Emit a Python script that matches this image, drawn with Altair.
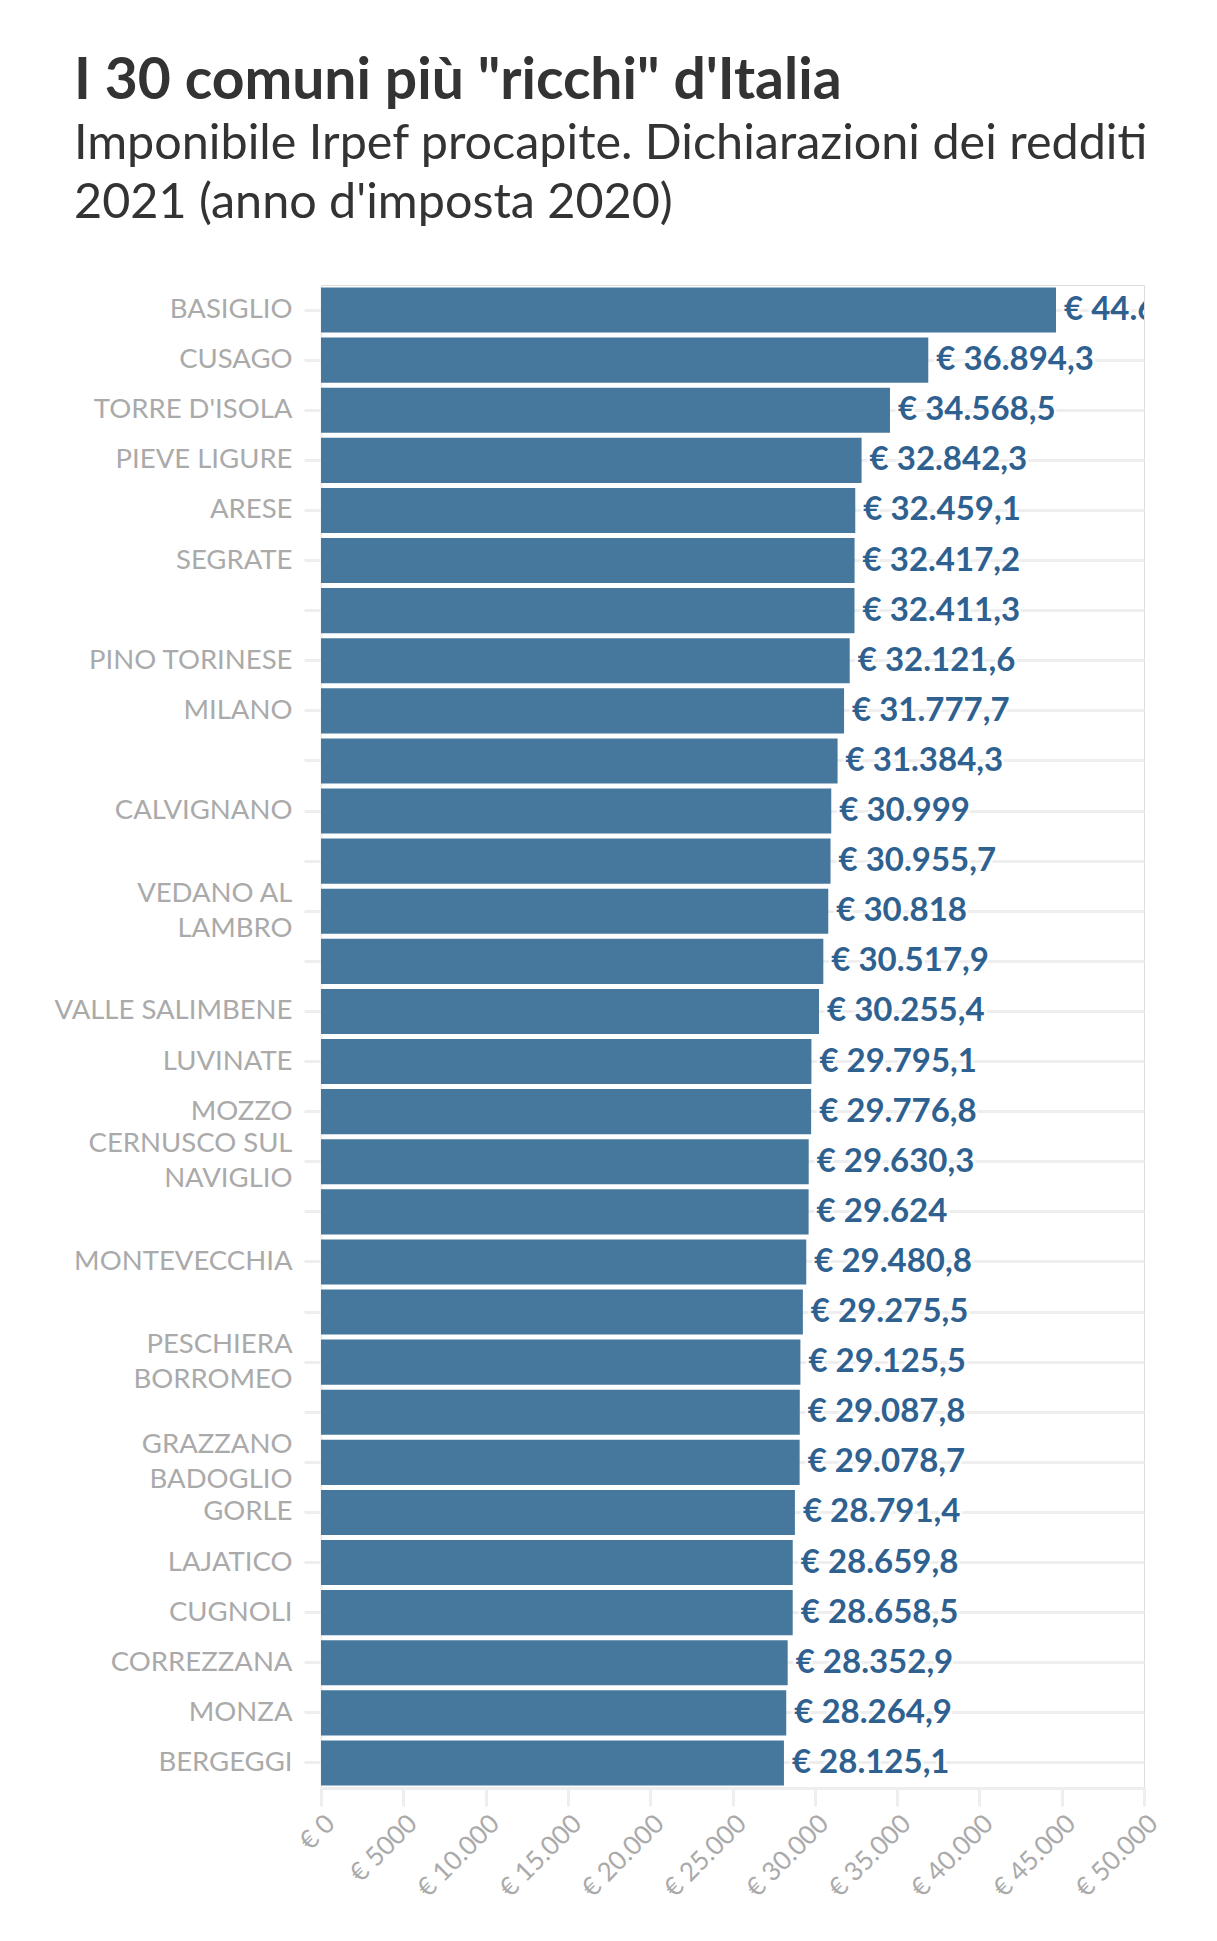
import json
import altair as alt
import pandas as pd

# ---- data ----
names = [
    "BASIGLIO", "CUSAGO", "TORRE D'ISOLA", "PIEVE LIGURE", "ARESE", "SEGRATE",
    "", "PINO TORINESE", "MILANO", "", "CALVIGNANO", "", "VEDANO AL\nLAMBRO",
    "", "VALLE SALIMBENE", "LUVINATE", "MOZZO", "CERNUSCO SUL\nNAVIGLIO", "",
    "MONTEVECCHIA", "", "PESCHIERA\nBORROMEO", "", "GRAZZANO\nBADOGLIO",
    "GORLE", "LAJATICO", "CUGNOLI", "CORREZZANA", "MONZA", "BERGEGGI",
]
values = [
    44654.0, 36894.3, 34568.5, 32842.3, 32459.1, 32417.2, 32411.3, 32121.6,
    31777.7, 31384.3, 30999.0, 30955.7, 30818.0, 30517.9, 30255.4, 29795.1,
    29776.8, 29630.3, 29624.0, 29480.8, 29275.5, 29125.5, 29087.8, 29078.7,
    28791.4, 28659.8, 28658.5, 28352.9, 28264.9, 28125.1,
]
x_ticks = [0, 5000, 10000, 15000, 20000, 25000, 30000, 35000, 40000, 45000, 50000]

title_text = 'I 30 comuni più "ricchi" d\'Italia'
subtitle_lines = [
    "Imponibile Irpef procapite. Dichiarazioni dei redditi",
    "2021 (anno d'imposta 2020)",
]


def fmt_eur(v):
    if abs(v - round(v)) < 1e-9:
        s = f"{int(round(v)):,}".replace(",", ".")
    else:
        s = f"{v:,.1f}".replace(",", "X").replace(".", ",").replace("X", ".")
    return "€ " + s


df = pd.DataFrame({
    "rank": list(range(1, len(values) + 1)),
    "comune": [n.replace("\n", " ") for n in names],
    "valore": values,
    "etichetta": [fmt_eur(v) for v in values],
})

LINE_H = 35
label_lines = [n.split("\n") if "\n" in n else n for n in names]
y_label_expr = json.dumps(label_lines, ensure_ascii=False) + "[datum.value - 1]"
multi_ranks = [i + 1 for i, n in enumerate(names) if "\n" in n]
multi_test = " || ".join(f"datum.value == {r}" for r in multi_ranks)
x_label_expr = ("'€ ' + (datum.value < 10000 ? format(datum.value, 'd') : "
                "replace(format(datum.value, ','), ',', '.'))")

FONT = "Lato"
BAR = "#46789e"
TXT = "#2f6190"

x_enc = alt.X(
    "valore:Q",
    title=None,
    scale=alt.Scale(domain=[0, 50000], nice=False, zero=True),
    axis=alt.Axis(
        values=x_ticks, labelExpr=x_label_expr, labelAngle=-45,
        labelFont=FONT, labelFontSize=26, labelColor="#aaaaaa",
        labelPadding=4, grid=False, domain=True, domainColor="#eeeeee",
        domainWidth=3, ticks=True, tickColor="#eeeeee", tickWidth=3,
        tickSize=18, labelOverlap=False,
    ),
)
y_enc = alt.Y(
    "rank:O",
    title=None,
    scale=alt.Scale(paddingInner=0.1, paddingOuter=0.05),
    axis=alt.Axis(
        labelExpr=y_label_expr, labelFont=FONT, labelFontSize=27.5,
        labelColor="#aaaaaa", labelPadding=12, labelLineHeight=LINE_H,
        labelOffset={"condition": {"test": multi_test, "value": -LINE_H / 2},
                     "value": 0},
        labelLimit=400, grid=True, gridColor="#eeeeee", gridWidth=3,
        domain=True, domainColor="#eeeeee", domainWidth=2, ticks=True,
        tickColor="#eeeeee", tickWidth=3, tickSize=17, labelOverlap=False,
        zindex=0,
    ),
)

base = alt.Chart(df)

bars = base.mark_bar(color=BAR).encode(x=x_enc, y=y_enc)

halo = base.mark_text(
    align="left", baseline="middle", dx=8, font=FONT, fontSize=33,
    fontWeight="bold", stroke="white", strokeWidth=6, strokeOpacity=0.75,
    fillOpacity=0, clip=True,
).encode(x="valore:Q", y="rank:O", text="etichetta:N")

labels = base.mark_text(
    align="left", baseline="middle", dx=8, font=FONT, fontSize=33,
    fontWeight="bold", color=TXT, clip=True,
).encode(x="valore:Q", y="rank:O", text="etichetta:N")

chart = (
    alt.layer(bars, halo, labels)
    .properties(
        width=823,
        height=1503,
        autosize=alt.AutoSizeParams(type="none"),
        padding={"left": 313, "top": 277, "right": 60, "bottom": 140},
        title=alt.TitleParams(
            text=title_text,
            subtitle=subtitle_lines,
            anchor="start",
            frame="group",
            dx=-247,
            offset=57,
            font=FONT,
            fontSize=57,
            fontWeight="bold",
            color="#333333",
            subtitleFont=FONT,
            subtitleFontSize=48.5,
            subtitleColor="#333333",
            subtitleLineHeight=59,
            subtitlePadding=10,
        ),
    )
    .configure_view(stroke=None)
    .configure(background="white")
)

chart.save("out.html", embed_options={"renderer": "svg", "actions": False})
